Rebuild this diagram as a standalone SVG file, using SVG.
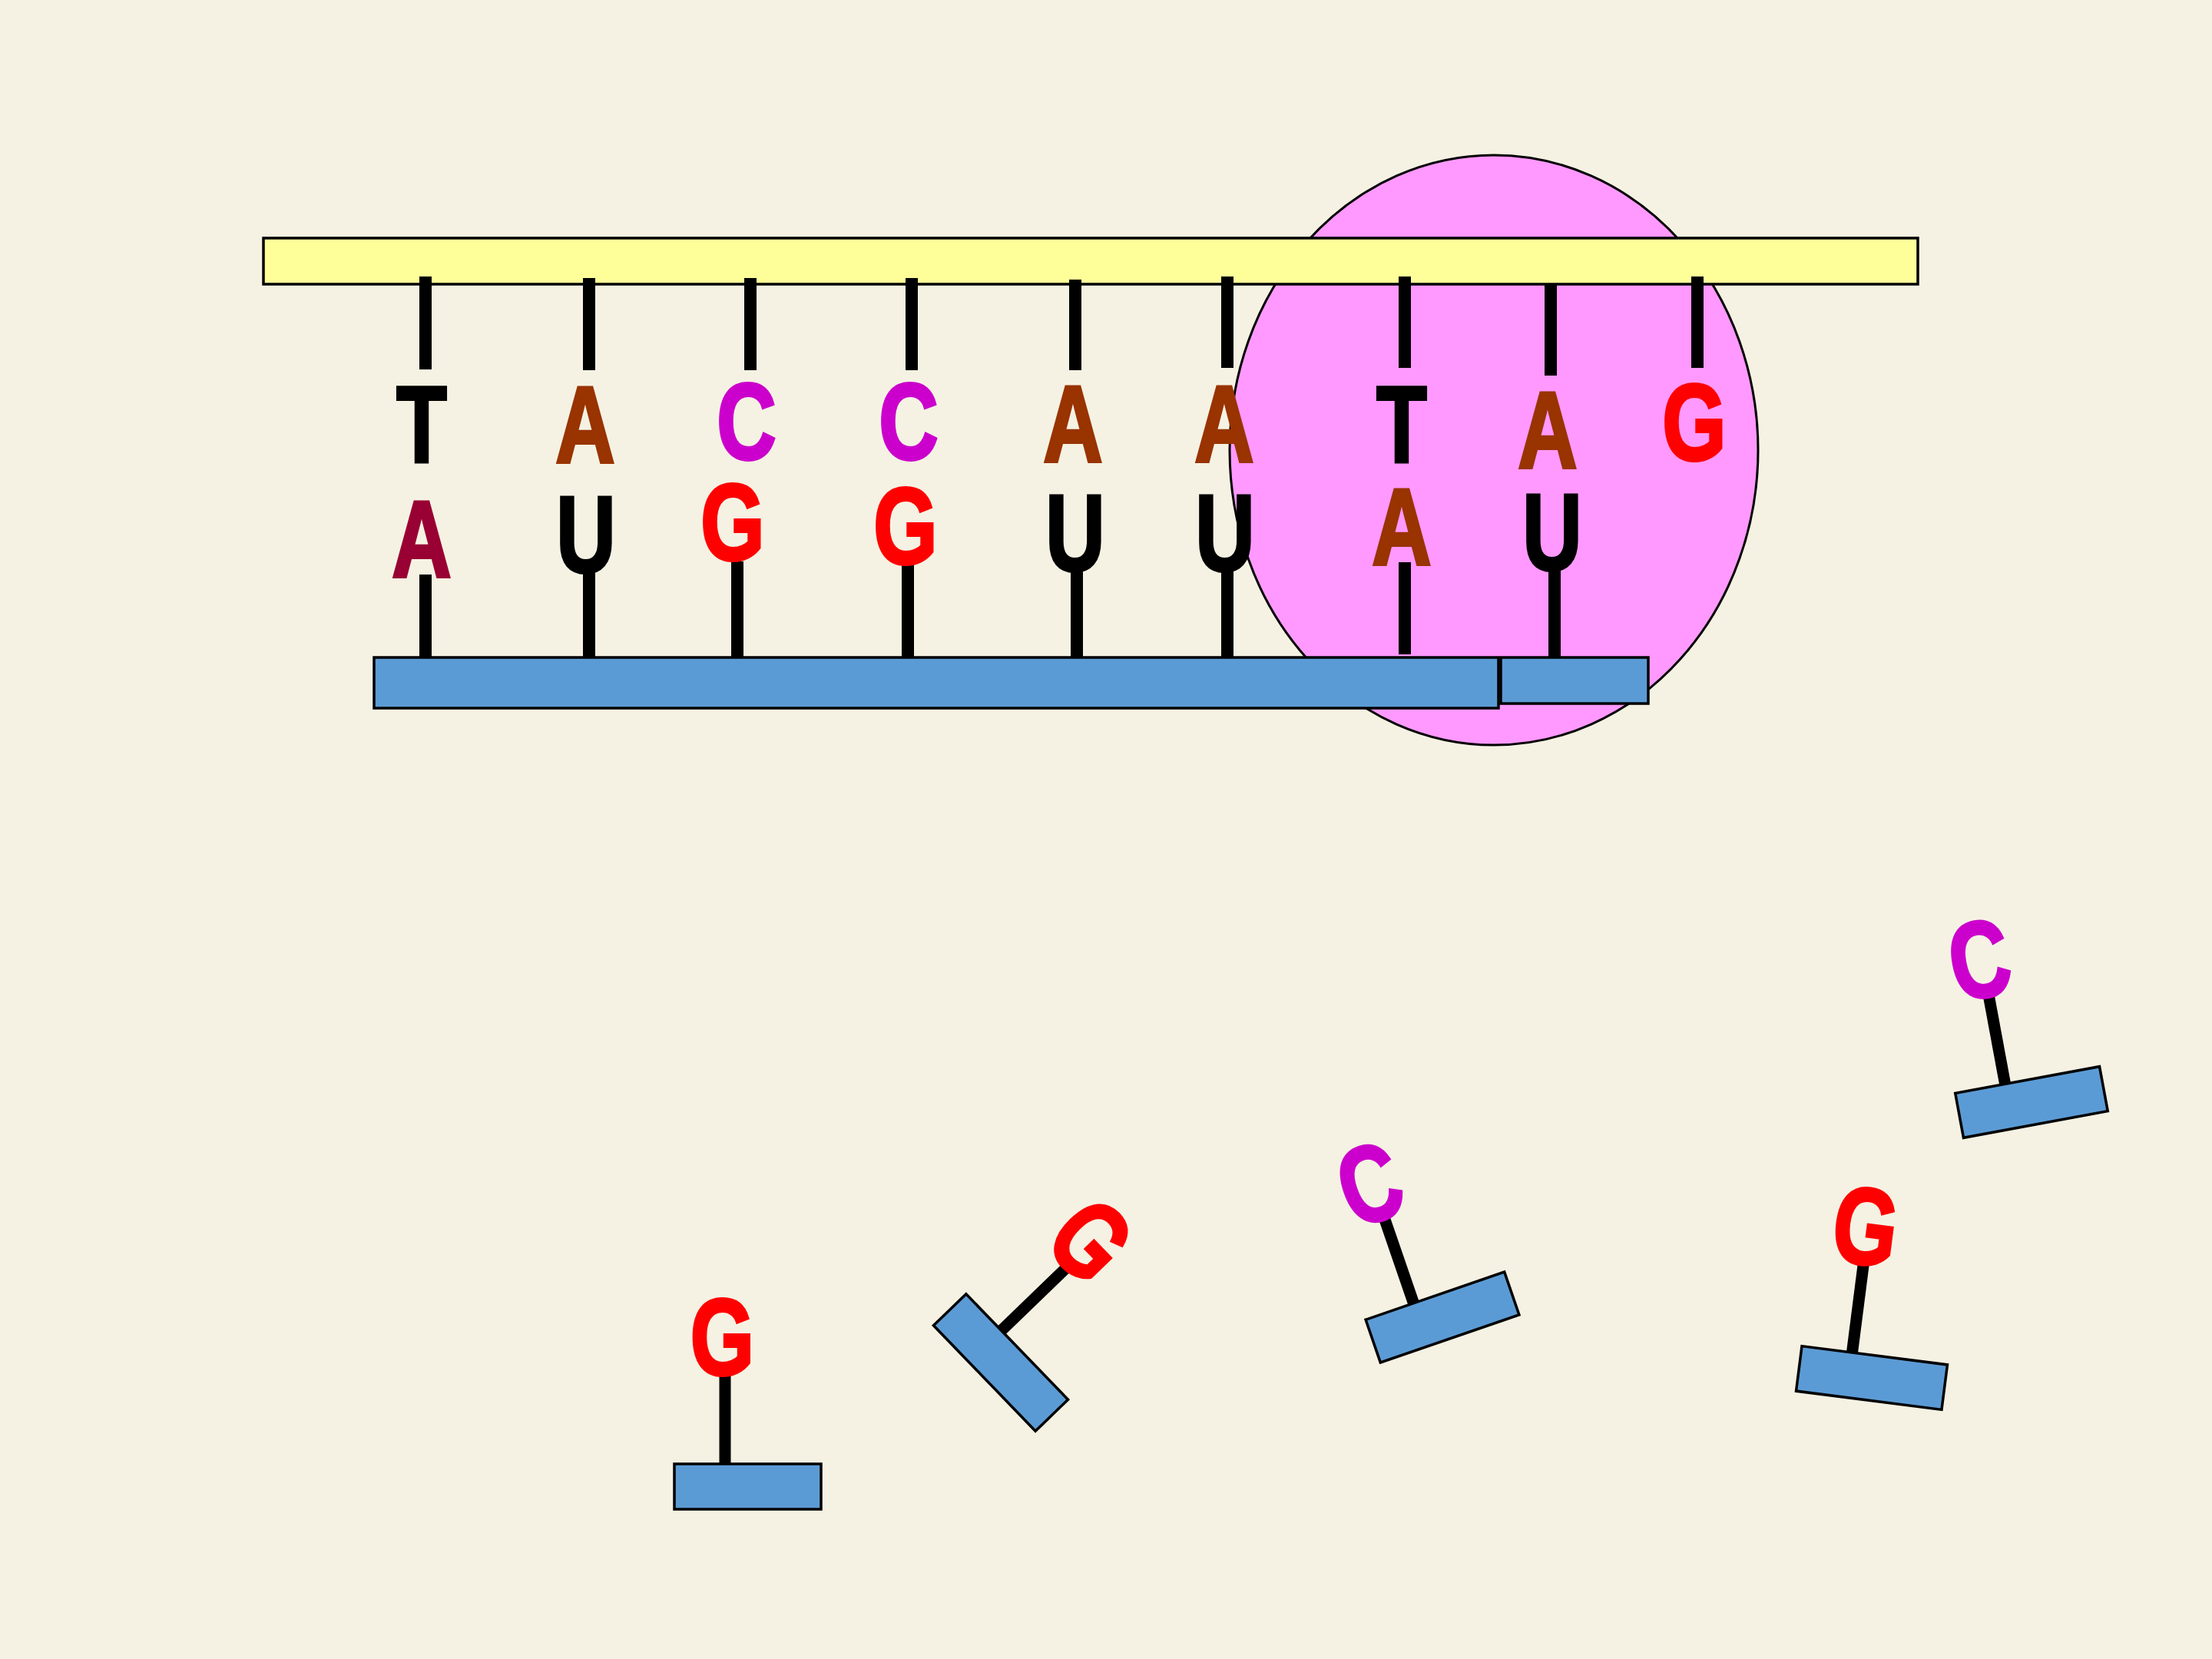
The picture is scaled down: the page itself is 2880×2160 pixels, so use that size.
<svg xmlns="http://www.w3.org/2000/svg" width="2880" height="2160" viewBox="0 0 2880 2160">
<style>
.bg{fill:#F5F2E3}
.yel{fill:#FFFF99;stroke:#000;stroke-width:3.5}
.blu{fill:#5B9BD5;stroke:#000;stroke-width:3.5}
.ell{fill:#FF99FF;stroke:#000;stroke-width:3}
.stem{stroke:#000;stroke-width:16;fill:none}
.stem2{stroke:#000;stroke-width:15;fill:none}
.b{font-family:"Liberation Sans",Arial,sans-serif;font-weight:bold;font-size:141px;text-anchor:middle;stroke-width:4}
.k{fill:#000;stroke:#000}
.br{fill:#993300;stroke:#993300}
.dr{fill:#990033;stroke:#990033}
.mg{fill:#CC00CC;stroke:#CC00CC}
.rd{fill:#FF0000;stroke:#FF0000}
</style>
<rect class="bg" x="0" y="0" width="2880" height="2160"/>
<g id="ribosome"><ellipse class="ell" cx="1945" cy="586" rx="344" ry="384"/></g>
<g id="dna-strand"><rect class="yel" x="343" y="310" width="2154" height="60"/></g>
<g id="rna-strand"><rect class="blu" x="487" y="856" width="1464" height="66"/></g>
<g id="new-nucleotide"><rect class="blu" x="1954" y="856" width="192" height="60"/></g>
<g id="connectors">
<line class="stem" x1="554" y1="360" x2="554" y2="481"/>
<line class="stem" x1="767" y1="362" x2="767" y2="482"/>
<line class="stem" x1="977" y1="362" x2="977" y2="482"/>
<line class="stem" x1="1187" y1="362" x2="1187" y2="482"/>
<line class="stem" x1="1400" y1="364" x2="1400" y2="482"/>
<line class="stem" x1="1598" y1="360" x2="1598" y2="479"/>
<line class="stem" x1="1829" y1="360" x2="1829" y2="479"/>
<line class="stem" x1="2019" y1="370" x2="2019" y2="489"/>
<line class="stem" x1="2210" y1="360" x2="2210" y2="479"/>
<line class="stem" x1="554" y1="748" x2="554" y2="856"/>
<line class="stem" x1="767" y1="740" x2="767" y2="856"/>
<line class="stem" x1="960" y1="731" x2="960" y2="856"/>
<line class="stem" x1="1182" y1="735" x2="1182" y2="856"/>
<line class="stem" x1="1402" y1="741" x2="1402" y2="856"/>
<line class="stem" x1="1598" y1="741" x2="1598" y2="856"/>
<line class="stem" x1="1829" y1="732" x2="1829" y2="852"/>
<line class="stem" x1="2024" y1="741" x2="2024" y2="856"/>
</g>
<g id="dna-bases">
<text class="b k" transform="translate(549,601) scale(0.76,1)">T</text>
<text class="b br" transform="translate(762,602) scale(0.76,1)">A</text>
<text class="b mg" transform="translate(972,598) scale(0.76,1)">C</text>
<text class="b mg" transform="translate(1183,598) scale(0.76,1)">C</text>
<text class="b br" transform="translate(1397,601) scale(0.76,1)">A</text>
<text class="b br" transform="translate(1594,601) scale(0.76,1)">A</text>
<text class="b k" transform="translate(1825,601) scale(0.76,1)">T</text>
<text class="b br" transform="translate(2015,609) scale(0.76,1)">A</text>
<text class="b rd" transform="translate(2206,599) scale(0.76,1)">G</text>
</g>
<g id="rna-bases">
<text class="b dr" transform="translate(549,751) scale(0.76,1)">A</text>
<text class="b k" transform="translate(763,745) scale(0.76,1)">U</text>
<text class="b rd" transform="translate(954,729) scale(0.76,1)">G</text>
<text class="b rd" transform="translate(1179,734) scale(0.76,1)">G</text>
<text class="b k" transform="translate(1400,743) scale(0.76,1)">U</text>
<text class="b k" transform="translate(1595,743) scale(0.76,1)">U</text>
<text class="b br" transform="translate(1825,735) scale(0.76,1)">A</text>
<text class="b k" transform="translate(2021,742) scale(0.76,1)">U</text>
</g>
<g id="free-g1" transform="translate(973.5,1935.5)">
<line class="stem2" x1="-29.5" y1="-29.5" x2="-29.5" y2="-150"/>
<rect class="blu" x="-95.5" y="-29.5" width="191" height="59"/>
<text class="b rd" transform="translate(-33,-146) scale(0.76,1)">G</text>
</g>
<g id="free-g2" transform="translate(1303,1774) rotate(46)">
<line class="stem2" x1="-29.5" y1="-29.5" x2="-29.5" y2="-150"/>
<rect class="blu" x="-95.5" y="-29.5" width="191" height="59"/>
<text class="b rd" transform="translate(-33,-146) scale(0.76,1)">G</text>
</g>
<g id="free-c1" transform="translate(1878,1715) rotate(-19)">
<line class="stem2" x1="-29.5" y1="-29.5" x2="-29.5" y2="-150"/>
<rect class="blu" x="-95.5" y="-29.5" width="191" height="59"/>
<text class="b mg" transform="translate(-33,-146) scale(0.76,1)">C</text>
</g>
<g id="free-g3" transform="translate(2437,1794) rotate(7.3)">
<line class="stem2" x1="-29.5" y1="-29.5" x2="-29.5" y2="-150"/>
<rect class="blu" x="-95.5" y="-29.5" width="191" height="59"/>
<text class="b rd" transform="translate(-33,-146) scale(0.76,1)">G</text>
</g>
<g id="free-c2" transform="translate(2645,1435) rotate(-10.5)">
<line class="stem2" x1="-29.5" y1="-29.5" x2="-29.5" y2="-150"/>
<rect class="blu" x="-95.5" y="-29.5" width="191" height="59"/>
<text class="b mg" transform="translate(-33,-146) scale(0.76,1)">C</text>
</g>
</svg>
